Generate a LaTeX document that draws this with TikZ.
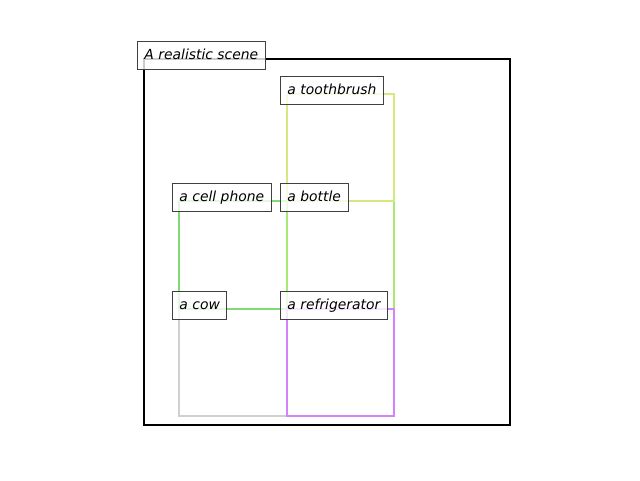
\documentclass[tikz,border=0pt]{standalone}
\usepackage{fontspec}
\setmainfont{DejaVu Sans}
\begin{document}
\begin{tikzpicture}[x=1pt,y=-1pt,
  lbl/.style={draw=black!75, fill=white, fill opacity=0.8, text opacity=1,
    anchor=base west, inner sep=7pt, text height=11pt, text depth=3pt,
    font=\fontsize{13.9}{16}\selectfont\itshape, line width=0.9pt},
  bx/.style={line width=2.3pt}]
\definecolor{ctooth}{RGB}{212,234,128}
\definecolor{cbottle}{RGB}{166,234,116}
\definecolor{cphone}{RGB}{128,218,118}
\definecolor{ccow}{RGB}{208,208,208}
\definecolor{cfridge}{RGB}{210,130,250}
\useasboundingbox (0,0) rectangle (640,480);
\draw[line width=2pt] (144,59) rectangle (510,425);
\draw[bx, ccow] (179,309) rectangle (287,416);
\draw[bx, cphone] (179,201) rectangle (287,309);
\draw[bx, cbottle] (287,201) rectangle (394,309);
\draw[bx, cfridge] (287,309) rectangle (394,416);
\draw[bx, ctooth] (287,94) rectangle (394,201);
\node[lbl] (scene) at (137,59) {A realistic scene};
\node[lbl] (tooth) at (280,94) {a toothbrush};
\node[lbl] (phone) at (172,201) {a cell phone};
\node[lbl] (bottle) at (280,201) {a bottle};
\node[lbl] (cow) at (172,309) {a cow};
\node[lbl] (fridge) at (280,309) {a refrigerator};
\end{tikzpicture}
\end{document}
